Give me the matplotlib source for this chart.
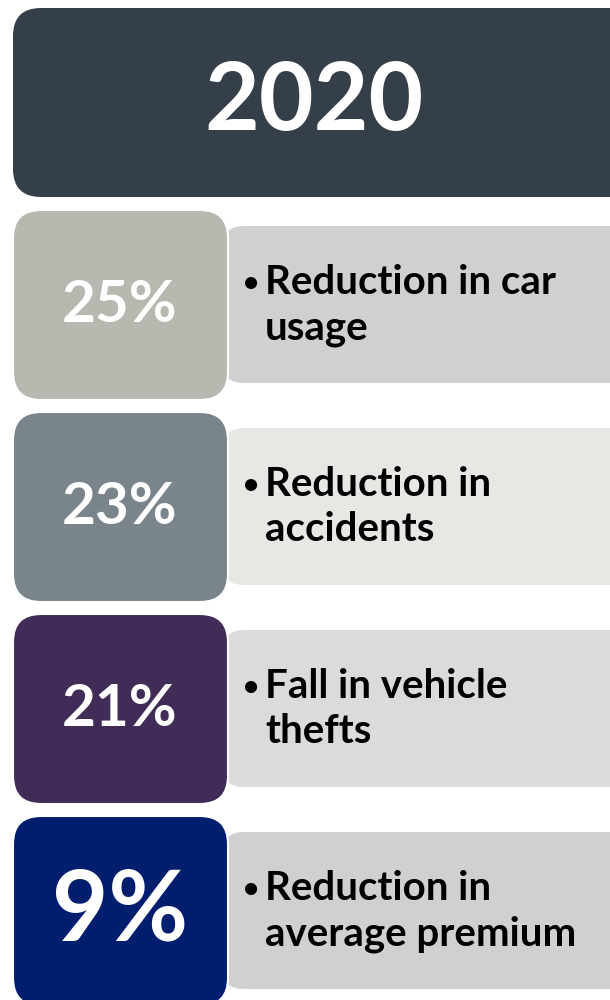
import matplotlib
matplotlib.use('Agg')
import matplotlib.pyplot as plt
from matplotlib.patches import FancyBboxPatch

# data
title = '2020'
values = ['25%', '23%', '21%', '9%']
labels = ['Reduction in car\nusage',
          'Reduction in\naccidents',
          'Fall in vehicle\nthefts',
          'Reduction in\naverage premium']
left_colors = ['#B8B8B0', '#79848B', '#402C56', '#001E6E']
right_colors = ['#D0D0D0', '#E8E7E4', '#DBDBDD', '#D0D0D2']

FONT = 'Lato'

fig = plt.figure(figsize=(6.1, 10), dpi=100)
ax = fig.add_axes([0, 0, 1, 1])
ax.set_xlim(0, 610)
ax.set_ylim(1000, 0)
ax.axis('off')

# title block
ax.add_patch(FancyBboxPatch((13, 8), 627, 189, boxstyle='round,pad=0,rounding_size=28',
                            fc='#343F4A', ec='none'))
ax.text(314, 103, title, color='white', fontsize=68, fontweight='bold', family=FONT,
        ha='center', va='center')

row_step = 202
for i in range(len(values)):
    top = 210 + i * row_step
    # text panel behind
    ax.add_patch(FancyBboxPatch((222, top + 16), 420, 157, boxstyle='round,pad=0,rounding_size=22',
                                fc=right_colors[i], ec='none'))
    # number block
    ax.add_patch(FancyBboxPatch((13, top), 215, 190, boxstyle='round,pad=0,rounding_size=28',
                                fc=left_colors[i], ec='white', lw=1.5))
    size = 70 if i == 3 else 42
    ax.text(120, top + 96, values[i], color='white', fontsize=size, fontweight='bold',
            family=FONT, ha='center', va='center')
    ax.text(259, top + 74, '\u2022', color='black', fontsize=20, fontweight='bold',
            family=FONT, ha='right', va='center')
    ax.text(265, top + 54, labels[i], color='black', fontsize=29, fontweight='bold',
            family=FONT, ha='left', va='top', linespacing=1.28)

fig.savefig('out.png', dpi=100)
